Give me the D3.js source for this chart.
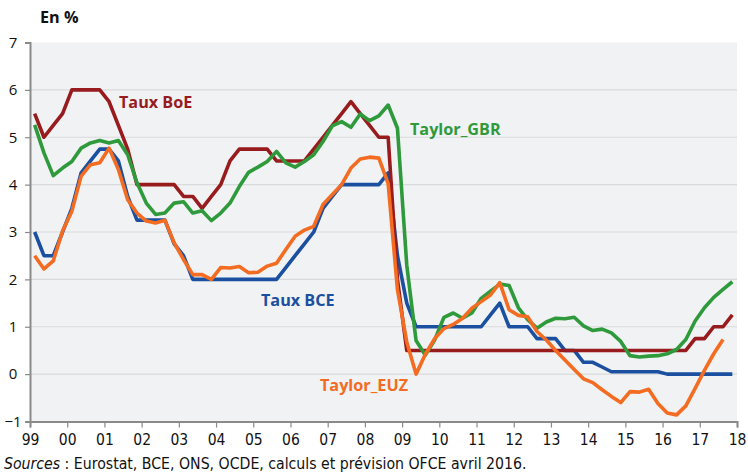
<!DOCTYPE html>
<html><head><meta charset="utf-8">
<script src="https://cdn.jsdelivr.net/npm/d3@7"></script>
<style>
body{margin:0;background:#fff;}
svg{display:block;}
.lbl{font-family:"Open Sans",sans-serif;font-weight:700;font-size:16.2px;}
.ytick text{font-family:"Open Sans",sans-serif;font-size:15px;fill:#111;}
.xtick text{font-family:"Liberation Sans Narrow","DejaVu Sans Condensed",sans-serif;font-size:15.5px;fill:#111;}
</style></head>
<body>
<svg id="c" width="748" height="476"></svg>
<script>
// Quarterly data, 1999T1 .. 2017T4
const startYear = 1999;
const nQuarters = 76;
const yearTicks = d3.range(1999, 2019);
const yearLabels = ["99","00","01","02","03","04","05","06","07","08","09","10","11","12","13","14","15","16","17","18"];
const yTicks = [-1,0,1,2,3,4,5,6,7];

const tauxBCE = [3.0,2.5,2.5,3.0,3.5,4.25,4.5,4.75,4.75,4.5,3.75,3.25,3.25,3.25,3.25,2.75,2.5,2.0,
  2.0,2.0,2.0,2.0,2.0,2.0,2.0,2.0,2.0,2.25,2.5,2.75,3.0,3.5,3.75,4.0,4.0,4.0,4.0,4.0,4.25,2.5,1.5,
  1.0,1.0,1.0,1.0,1.0,1.0,1.0,1.0,1.25,1.5,1.0,1.0,1.0,0.75,0.75,0.75,0.5,0.5,0.25,0.25,0.15,0.05,
  0.05,0.05,0.05,0.05,0.05,0.0,0.0,0.0,0.0,0.0,0.0,0.0,0.0];
const tauxBoE = [5.5,5.0,5.25,5.5,6.0,6.0,6.0,6.0,5.75,5.25,4.75,4.0,4.0,4.0,4.0,4.0,3.75,3.75,3.5,3.75,
  4.0,4.5,4.75,4.75,4.75,4.75,4.5,4.5,4.5,4.5,4.75,5.0,5.25,5.5,5.75,5.5,5.25,5.0,5.0,2.0,
  0.5,0.5,0.5,0.5,0.5,0.5,0.5,0.5,0.5,0.5,0.5,0.5,0.5,0.5,0.5,0.5,0.5,0.5,0.5,0.5,
  0.5,0.5,0.5,0.5,0.5,0.5,0.5,0.5,0.5,0.5,0.5,0.75,0.75,1.0,1.0,1.25];
const taylorGBR = [5.26,4.67,4.19,4.35,4.49,4.77,4.88,4.93,4.88,4.93,4.63,4.04,3.61,3.37,3.4,3.61,3.64,3.4,3.45,3.24,
  3.4,3.61,3.96,4.26,4.37,4.49,4.7,4.46,4.37,4.49,4.63,4.91,5.24,5.33,5.21,5.49,5.35,5.45,5.68,5.19,
  2.3,0.71,0.4,0.72,1.2,1.29,1.18,1.29,1.6,1.75,1.9,1.87,1.4,1.15,0.97,1.1,1.18,1.17,1.2,1.02,
  0.92,0.95,0.87,0.69,0.39,0.36,0.38,0.39,0.43,0.52,0.73,1.12,1.4,1.62,1.79,1.95];
const taylorEUZ = [2.5,2.22,2.39,3.02,3.44,4.18,4.42,4.46,4.77,4.32,3.68,3.4,3.23,3.19,3.25,2.77,2.42,2.1,2.1,2.0,
  2.25,2.24,2.27,2.14,2.15,2.28,2.34,2.63,2.91,3.04,3.12,3.58,3.79,4.0,4.35,4.54,4.58,4.56,4.02,1.78,
  0.68,0.0,0.42,0.75,0.96,1.05,1.18,1.39,1.53,1.67,1.93,1.36,1.24,1.21,0.9,0.72,0.5,0.3,0.1,-0.1,
  -0.18,-0.33,-0.47,-0.6,-0.37,-0.38,-0.32,-0.62,-0.82,-0.86,-0.67,-0.3,0.08,0.43,0.73];

const series = [
  {name:"Taux BCE", values:tauxBCE, color:"#1b4f9f"},
  {name:"Taux BoE", values:tauxBoE, color:"#981b1e"},
  {name:"Taylor_GBR", values:taylorGBR, color:"#2f9a3b"},
  {name:"Taylor_EUZ", values:taylorEUZ, color:"#f36c21"}
];
const labels = [
  {text:"Taux BoE", x:119, y:108, color:"#981b1e"},
  {text:"Taylor_GBR", x:410, y:135, color:"#2f9a3b"},
  {text:"Taux BCE", x:261, y:306, color:"#1b4f9f"},
  {text:"Taylor_EUZ", x:320, y:391, color:"#f36c21"}
];

const svg = d3.select("#c");
const L=30, R=737, T=42.5, B=421.5;
const x = d3.scaleLinear().domain([1999,2018]).range([L,R]);
const y = d3.scaleLinear().domain([-1,7]).range([B,T]);
const qTime = i => startYear + (i+0.5)/4;

svg.append("rect").attr("x",L).attr("y",T).attr("width",R-L).attr("height",B-T).attr("fill","#f1f2f4");

// grid
svg.append("g").selectAll("line").data(yTicks.filter(v=>v>-1 && v<7)).join("line")
  .attr("x1",L).attr("x2",R).attr("y1",d=>y(d)).attr("y2",d=>y(d))
  .attr("stroke","#d9dadc").attr("stroke-width",1.2);

// y axis
const ya = svg.append("g").attr("class","ytick").attr("transform",`translate(${L},0)`)
  .call(d3.axisLeft(y).tickValues(yTicks).tickSize(5).tickPadding(8).tickFormat(d3.format("d")));
ya.select(".domain").attr("stroke","#8a8a8a").attr("stroke-width",2);
ya.selectAll(".tick line").attr("stroke","#8a8a8a").attr("stroke-width",1.2);
ya.selectAll("text").attr("text-anchor","middle").attr("x",-17);

// x axis
const xa = svg.append("g").attr("class","xtick").attr("transform",`translate(0,${B})`)
  .call(d3.axisBottom(x).tickValues(yearTicks).tickSize(6).tickPadding(6)
    .tickFormat((d,i)=>yearLabels[i]));
xa.select(".domain").attr("stroke","#8a8a8a").attr("stroke-width",2);
xa.selectAll(".tick line").attr("stroke","#8a8a8a").attr("stroke-width",1.2);

// lines
const line = d3.line().x((d,i)=>x(qTime(i))).y(d=>y(d));
svg.append("g").selectAll("path").data(series).join("path")
  .attr("d",d=>line(d.values)).attr("fill","none")
  .attr("stroke",d=>d.color).attr("stroke-width",3.6)
  .attr("stroke-linejoin","round");

// series labels
svg.append("g").selectAll("text").data(labels).join("text")
  .attr("class","lbl").attr("x",d=>d.x).attr("y",d=>d.y).attr("fill",d=>d.color).text(d=>d.text);

// title & source
svg.append("text").attr("x",40).attr("y",23).attr("class","lbl").attr("fill","#111").text("En %");
const src = svg.append("text").attr("x",4).attr("y",469)
  .style("font-family",'"Liberation Sans Narrow","DejaVu Sans Condensed",sans-serif').style("font-size","15.7px").attr("fill","#111");
src.append("tspan").style("font-style","italic").text("Sources");
src.append("tspan").text(" : Eurostat, BCE, ONS, OCDE, calculs et prévision OFCE avril 2016.");
</script>
</body></html>
